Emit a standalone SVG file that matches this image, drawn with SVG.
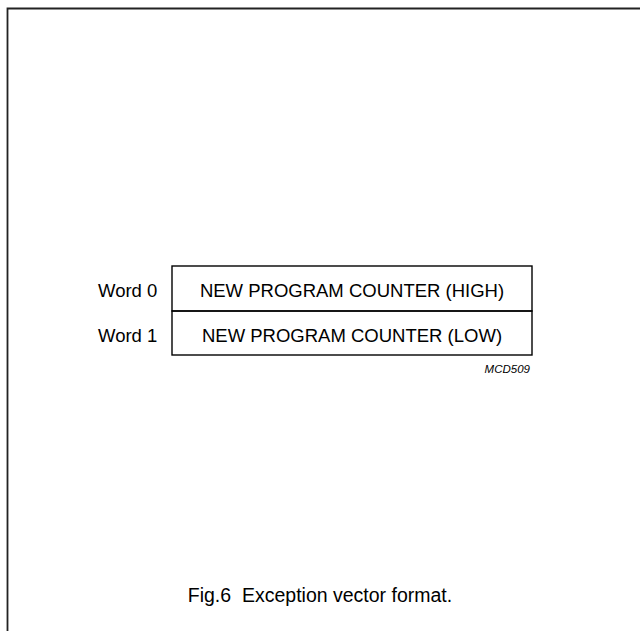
<svg xmlns="http://www.w3.org/2000/svg" width="640" height="631" viewBox="0 0 640 631">
<style>
text{font-family:"Liberation Sans",Arial,Helvetica,sans-serif;fill:#000}
.t{font-size:18.5px}
.b{fill:none;stroke:#000;stroke-width:1.4}
</style>
<rect width="640" height="631" fill="#fff"/>
<g id="frame" fill="none" stroke="#222" stroke-width="1.8">
<polyline points="7.5,631 7.5,8.5 640,8.5"/>
</g>
<g id="word0">
<rect class="b" x="172" y="266" width="360" height="45"/>
<text class="t" x="352" y="297" text-anchor="middle">NEW PROGRAM COUNTER (HIGH)</text>
<text class="t" x="98" y="297">Word 0</text>
</g>
<g id="word1">
<rect class="b" x="172" y="311" width="360" height="44"/>
<text class="t" x="352" y="342" text-anchor="middle">NEW PROGRAM COUNTER (LOW)</text>
<text class="t" x="98" y="342">Word 1</text>
</g>
<g id="connectors"/>
<text x="530" y="373" text-anchor="end" font-style="italic" style="font-size:11.5px">MCD509</text>
<text x="320" y="602" text-anchor="middle" style="font-size:19.5px" xml:space="preserve">Fig.6  Exception vector format.</text>
</svg>
